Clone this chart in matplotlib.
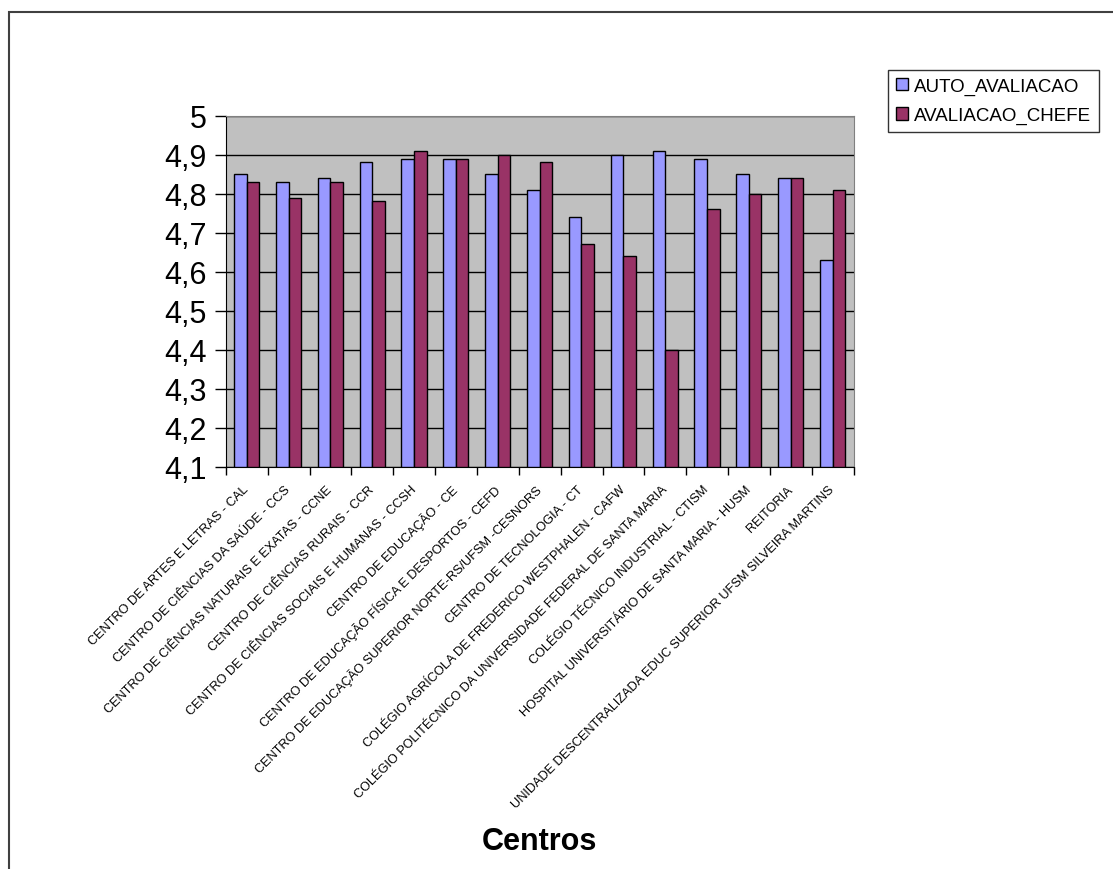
import numpy as np
import matplotlib.pyplot as plt
from matplotlib.patches import Rectangle

plt.rcParams['font.family'] = ['Liberation Sans', 'DejaVu Sans']

centros = [
    'CENTRO DE ARTES E LETRAS - CAL',
    'CENTRO DE CIÊNCIAS DA SAÚDE - CCS',
    'CENTRO DE CIÊNCIAS NATURAIS E EXATAS - CCNE',
    'CENTRO DE CIÊNCIAS RURAIS - CCR',
    'CENTRO DE CIÊNCIAS SOCIAIS E HUMANAS - CCSH',
    'CENTRO DE EDUCAÇÃO - CE',
    'CENTRO DE EDUCAÇÃO FÍSICA E DESPORTOS - CEFD',
    'CENTRO DE EDUCAÇÃO SUPERIOR NORTE-RS/UFSM -CESNORS',
    'CENTRO DE TECNOLOGIA - CT',
    'COLÉGIO AGRÍCOLA DE FREDERICO WESTPHALEN - CAFW',
    'COLÉGIO POLITÉCNICO DA UNIVERSIDADE FEDERAL DE SANTA MARIA',
    'COLÉGIO TÉCNICO INDUSTRIAL - CTISM',
    'HOSPITAL UNIVERSITÁRIO DE SANTA MARIA - HUSM',
    'REITORIA',
    'UNIDADE DESCENTRALIZADA EDUC SUPERIOR UFSM SILVEIRA MARTINS',
]
auto_avaliacao = [4.85, 4.83, 4.84, 4.88, 4.89, 4.89, 4.85, 4.81, 4.74, 4.90,
                  4.91, 4.89, 4.85, 4.84, 4.63]
avaliacao_chefe = [4.83, 4.79, 4.83, 4.78, 4.91, 4.89, 4.90, 4.88, 4.67, 4.64,
                   4.40, 4.76, 4.80, 4.84, 4.81]
yticks = [4.1, 4.2, 4.3, 4.4, 4.5, 4.6, 4.7, 4.8, 4.9, 5.0]
ytick_labels = ['4,1', '4,2', '4,3', '4,4', '4,5', '4,6', '4,7', '4,8', '4,9', '5']

fig = plt.figure(figsize=(11.13, 8.70), dpi=100)
ax = fig.add_axes([0.203, 0.4624, 0.564, 0.4035])

# outer chart border (Excel chart area)
fig.patches.append(Rectangle((0.008, -0.1), 1.2, 1.085, transform=fig.transFigure,
                             fill=False, edgecolor='#404040', lw=1.5))

x = np.arange(len(centros))
base = 4.1
ax.bar(x - 0.155, np.array(auto_avaliacao) - base, 0.3, bottom=base, color='#9999FF',
       edgecolor='black', lw=1, label='AUTO_AVALIACAO', zorder=3)
ax.bar(x + 0.145, np.array(avaliacao_chefe) - base, 0.3, bottom=base, color='#993366',
       edgecolor='black', lw=1, label='AVALIACAO_CHEFE', zorder=3)

ax.set_facecolor('#C0C0C0')
ax.set_xlim(-0.5, len(centros) - 0.5)
ax.set_ylim(4.1, 5.0)
ax.set_yticks(yticks)
ax.set_yticklabels(ytick_labels, fontsize=22)
ax.yaxis.grid(True, color='black', lw=1, zorder=1)
ax.set_axisbelow(True)

ax.set_xticks(x)
ax.set_xticklabels(centros, rotation=45, ha='right', va='center',
                   rotation_mode='anchor', fontsize=9.2)
ax.set_xticks(np.arange(len(centros) + 1) - 0.5, minor=True)
ax.tick_params(axis='x', which='major', length=0, pad=15)
ax.tick_params(axis='x', which='minor', length=6, width=1, direction='out')
ax.tick_params(axis='y', length=8, width=1, direction='out', pad=6)

for s in ['top', 'right']:
    ax.spines[s].set_color('#808080')
for s in ['left', 'bottom']:
    ax.spines[s].set_color('black')

fig.text(0.485, 0.032, 'Centros', fontsize=22, fontweight='bold', ha='center', va='center')

leg = ax.legend(loc='upper left', bbox_to_anchor=(1.055, 1.13), fontsize=13.5,
                frameon=True, fancybox=False, edgecolor='black', handlelength=0.65,
                handleheight=0.65, handletextpad=0.35, borderpad=0.4, labelspacing=0.65,
                borderaxespad=0)
leg.get_frame().set_linewidth(1)

fig.savefig('out.png', dpi=100)
